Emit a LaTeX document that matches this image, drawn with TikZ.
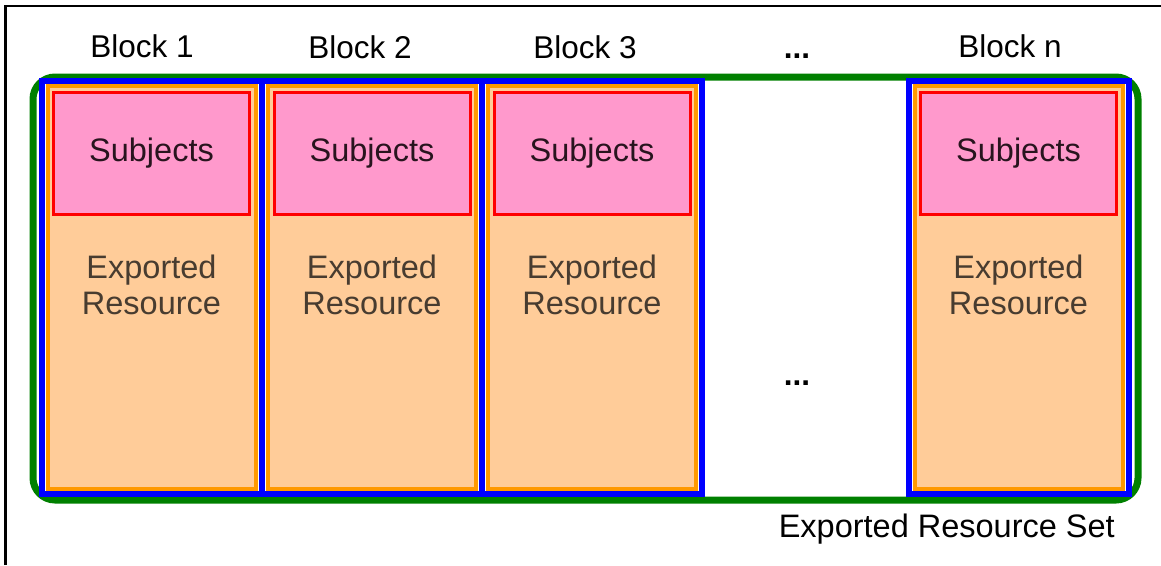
\documentclass[tikz,border=0pt]{standalone}
\usepackage{fontspec}
\setmainfont{Liberation Sans}
\definecolor{setgreen}{RGB}{0,128,0}
\definecolor{blkblue}{RGB}{0,0,255}
\definecolor{resorange}{RGB}{255,153,0}
\definecolor{resfill}{RGB}{255,204,153}
\definecolor{subjfill}{RGB}{255,153,204}
\definecolor{subjred}{RGB}{255,0,0}
\definecolor{restext}{RGB}{72,60,48}
\definecolor{subjtext}{RGB}{40,20,30}
\tikzset{
  setbox/.style={draw=setgreen,line width=7pt,rounded corners=22pt},
  blockbox/.style={draw=blkblue,line width=6pt,inner sep=0pt,outer sep=0pt,minimum width=220pt,minimum height=413pt},
  resbox/.style={draw=resorange,fill=resfill,line width=4pt,inner sep=0pt,outer sep=0pt,minimum width=208pt,minimum height=403pt},
  subjbox/.style={draw=subjred,fill=subjfill,line width=3pt,inner sep=0pt,outer sep=0pt,minimum width=196pt,minimum height=122pt,text=subjtext,font=\fontsize{32.5}{36}\selectfont},
  restxt/.style={text=restext,align=center,font=\fontsize{32.5}{36}\selectfont,inner sep=0pt},
  lbl/.style={font=\fontsize{31.5}{36}\selectfont,inner sep=0pt,anchor=base},
}
\begin{document}
\begin{tikzpicture}[x=1pt,y=-1pt]
\useasboundingbox (0,0) rectangle (1161,565);
% frame (partially cropped)
\draw[line width=2.5pt] (5.5,565) -- (5.5,6) -- (1161,6);
% set
\draw[setbox] (33,77) rectangle (1138,500);
% blocks
\foreach \n/\cx in {b1/151.5, b2/372, b3/592, bn/1018.5}{
  \node[blockbox] (\n) at (\cx,287.5) {};
  \node[resbox] (\n-res) at (\cx,287.5) {};
  \node[subjbox] (\n-subj) at (\cx,153) {Subjects};
  \node[restxt] (\n-txt) at (\cx,285) {Exported\\Resource};
}
\node[lbl] (l1) at (142,57) {Block 1};
\node[lbl] (l2) at (360,58) {Block 2};
\node[lbl] (l3) at (585,58) {Block 3};
\node[lbl] (ldots) at (797,58) {\textbf{...}};
\node[lbl] (ln) at (1010,57) {Block n};
\node[lbl] (mdots) at (797,385) {\textbf{...}};
\node[font=\fontsize{32.5}{36}\selectfont,inner sep=0pt,anchor=base east] (setlbl) at (1115,537) {Exported Resource Set};
\end{tikzpicture}
\end{document}
